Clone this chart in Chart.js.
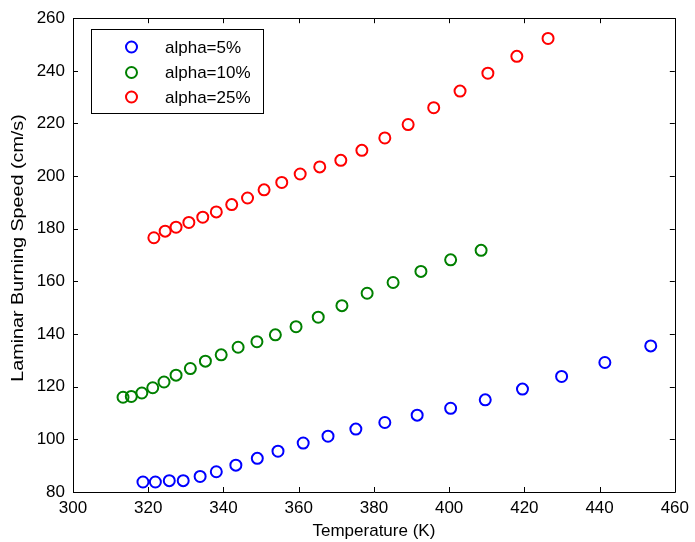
<!DOCTYPE html>
<html>
<head>
<meta charset="utf-8">
<script src="https://cdn.jsdelivr.net/npm/chart.js@4.4.0/dist/chart.umd.min.js"></script>
<style>
  html,body{margin:0;padding:0;background:#fff;}
  #wrap{width:695px;height:542px;}
</style>
</head>
<body>
<div id="wrap"><canvas id="c" width="695" height="542"></canvas></div>
<script>
// temperature (K) and laminar burning speed (cm/s)
const tempA5=[318.6,321.9,325.6,329.3,333.8,338.1,343.3,349.0,354.5,361.2,367.8,375.2,382.9,391.5,400.4,409.6,419.5,429.9,441.4,453.6];
const speedA5=[83.8,83.8,84.3,84.3,85.9,87.7,90.2,92.8,95.5,98.6,101.2,103.9,106.4,109.2,111.8,115.0,119.1,123.9,129.2,135.5];

const tempA10=[313.3,315.5,318.3,321.2,324.2,327.4,331.2,335.2,339.4,343.9,348.9,353.8,359.3,365.2,371.5,378.2,385.1,392.5,400.4,408.5];
const speedA10=[116.0,116.3,117.6,119.6,121.8,124.4,126.9,129.7,132.1,135.0,137.1,139.7,142.8,146.4,150.8,155.5,159.6,163.8,168.2,171.8];

const tempA25=[321.5,324.5,327.4,330.8,334.5,338.1,342.2,346.4,350.8,355.5,360.4,365.6,371.2,376.8,382.9,389.1,395.9,402.9,410.3,418.0,426.3];
const speedA25=[176.6,179.1,180.6,182.4,184.4,186.4,189.2,191.7,194.8,197.6,200.8,203.5,206.0,209.8,214.5,219.6,226.0,232.3,239.1,245.5,252.3];

const seriesLabels=['alpha=5%','alpha=10%','alpha=25%'];
const seriesColors=['#0000ff','#008000','#ff0000'];
const xTicks=[300,320,340,360,380,400,420,440,460];
const yTicks=[80,100,120,140,160,180,200,220,240,260];
const yTitle='Laminar Burning Speed (cm/s)';

const FONT='"Liberation Sans", Arial, sans-serif';

function toPoints(xs,ys){
    return xs.map(function(x,i){ return {x:x,y:ys[i]}; });
}

const allTemps=[tempA5,tempA10,tempA25];
const allSpeeds=[speedA5,speedA10,speedA25];
const datasets=seriesLabels.map(function(label,i){
    return {
        label:label,
        data:toPoints(allTemps[i],allSpeeds[i]),
        showLine:false,
        pointStyle:'circle',
        pointRadius:5.5,
        pointHoverRadius:5.5,
        pointBorderWidth:2,
        pointBackgroundColor:'rgba(0,0,0,0)',
        pointBorderColor:seriesColors[i]
    };
});

// box round the axes with inward ticks on all four sides, legend box, y title
const matlabFrame={
    id:'matlabFrame',
    afterDraw:function(chart){
        const ctx=chart.ctx;
        const a=chart.chartArea;
        const xs=chart.scales.x, ys=chart.scales.y;
        const tl=5;
        ctx.save();
        ctx.strokeStyle='#000';
        ctx.lineWidth=1;
        ctx.beginPath();
        ctx.rect(Math.round(a.left)+0.5,Math.round(a.top)+0.5,Math.round(a.right-a.left),Math.round(a.bottom-a.top));
        xTicks.forEach(function(v){
            const px=Math.round(xs.getPixelForValue(v))+0.5;
            ctx.moveTo(px,a.bottom);ctx.lineTo(px,a.bottom-tl);
            ctx.moveTo(px,a.top);ctx.lineTo(px,a.top+tl);
        });
        yTicks.forEach(function(v){
            const py=Math.round(ys.getPixelForValue(v))+0.5;
            ctx.moveTo(a.left,py);ctx.lineTo(a.left+tl,py);
            ctx.moveTo(a.right,py);ctx.lineTo(a.right-tl,py);
        });
        ctx.stroke();

        // legend
        const bx=91.5, by=29.5, bw=172, bh=84;
        ctx.fillStyle='#fff';
        ctx.fillRect(bx,by,bw,bh);
        ctx.strokeRect(bx,by,bw,bh);
        const rows=[47,72.5,97];
        ctx.font='17px '+FONT;
        ctx.textBaseline='middle';
        ctx.textAlign='left';
        chart.data.datasets.forEach(function(ds,i){
            ctx.beginPath();
            ctx.lineWidth=2;
            ctx.strokeStyle=ds.pointBorderColor;
            ctx.arc(131.5,rows[i],5.5,0,Math.PI*2);
            ctx.stroke();
            ctx.fillStyle='#000';
            ctx.fillText(ds.label,165,rows[i]+1);
        });

        // y title, a bit stretched along its length like the original
        ctx.translate(18,248);
        ctx.rotate(-Math.PI/2);
        ctx.scale(1.16,1);
        ctx.textAlign='center';
        ctx.fillStyle='#000';
        ctx.fillText(yTitle,0,0);
        ctx.restore();
    }
};

new Chart(document.getElementById('c'),{
    type:'scatter',
    data:{datasets:datasets},
    options:{
        responsive:false,
        animation:false,
        events:[],
        layout:{padding:{top:15,right:18,left:0,bottom:0}},
        plugins:{legend:{display:false},tooltip:{enabled:false}},
        scales:{
            x:{
                type:'linear',
                min:300,max:460,
                afterFit:function(s){ s.height=50; },
                afterBuildTicks:function(s){ s.ticks=xTicks.map(function(v){return {value:v};}); },
                grid:{display:false,drawTicks:false},
                border:{display:false},
                ticks:{color:'#000',padding:6,maxRotation:0,autoSkip:false,font:{family:FONT,size:17}},
                title:{display:true,text:'Temperature (K)',color:'#000',padding:{top:0,bottom:0},font:{family:FONT,size:17}}
            },
            y:{
                type:'linear',
                min:80,max:260,
                afterFit:function(s){ s.width=73; },
                afterBuildTicks:function(s){ s.ticks=yTicks.map(function(v){return {value:v};}); },
                grid:{display:false,drawTicks:false},
                border:{display:false},
                ticks:{color:'#000',padding:8,autoSkip:false,font:{family:FONT,size:17}},
                title:{display:false}
            }
        }
    },
    plugins:[matlabFrame]
});
</script>
</body>
</html>
